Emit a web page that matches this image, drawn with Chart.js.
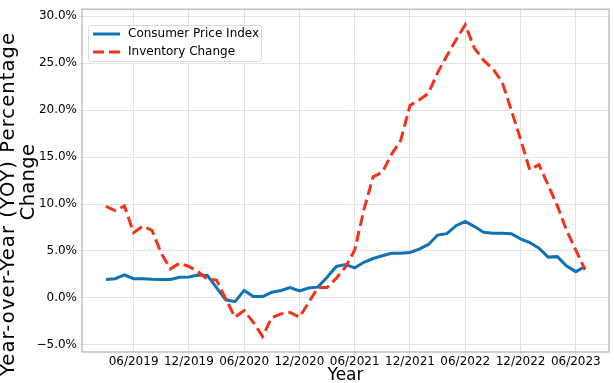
<!DOCTYPE html>
<html>
<head>
<meta charset="utf-8">
<script src="https://cdn.jsdelivr.net/npm/chart.js@4.4.0/dist/chart.umd.min.js"></script>
<style>
  body { margin: 0; background: #fff; }
  #wrap { width: 614px; height: 383px; position: relative; }
</style>
</head>
<body>
<div id="wrap"><canvas id="chart"></canvas></div>
<script>
// monthly observations, 03/2019 .. 07/2023
var months = [
  '03/2019','04/2019','05/2019','06/2019','07/2019','08/2019','09/2019','10/2019','11/2019','12/2019',
  '01/2020','02/2020','03/2020','04/2020','05/2020','06/2020','07/2020','08/2020','09/2020','10/2020','11/2020','12/2020',
  '01/2021','02/2021','03/2021','04/2021','05/2021','06/2021','07/2021','08/2021','09/2021','10/2021','11/2021','12/2021',
  '01/2022','02/2022','03/2022','04/2022','05/2022','06/2022','07/2022','08/2022','09/2022','10/2022','11/2022','12/2022',
  '01/2023','02/2023','03/2023','04/2023','05/2023','06/2023','07/2023'
];
var cpi = [
  1.96, 2.05, 2.45, 2.05, 2.05, 1.98, 1.96, 1.96, 2.2, 2.23,
  2.45, 2.4, 1.1, -0.2, -0.4, 0.8, 0.15, 0.15, 0.6, 0.8, 1.1, 0.75,
  1.05, 1.15, 2.2, 3.35, 3.55, 3.2, 3.8, 4.2, 4.5, 4.75, 4.75, 4.85,
  5.2, 5.7, 6.7, 6.85, 7.7, 8.15, 7.6, 7.0, 6.9, 6.9, 6.85, 6.3,
  5.9, 5.3, 4.35, 4.4, 3.4, 2.8, 3.35
];
var inventory = [
  9.75, 9.3, 9.8, 6.95, 7.65, 7.2, 4.75, 3.1, 3.7, 3.35,
  2.8, 2.0, 1.9, -0.1, -2.05, -1.35, -2.6, -4.1, -2.1, -1.7, -1.55, -2.05,
  -0.5, 1.1, 1.1, 2.1, 3.3, 5.1, 9.4, 12.9, 13.4, 15.3, 16.8, 20.5,
  21.1, 21.8, 24.0, 25.8, 27.5, 29.1, 26.6, 25.3, 24.4, 23.0, 20.0, 16.9,
  13.65, 14.2, 12.0, 9.8, 7.2, 5.1, 3.0
];
var seriesNames = ['Consumer Price Index', 'Inventory Change'];
var xTickLabels = ['06/2019','12/2019','06/2020','12/2020','06/2021','12/2021','06/2022','12/2022','06/2023'];
var yTickValues = [-5, 0, 5, 10, 15, 20, 25, 30];
var xTitle = 'Year';
var yTitleLines = ['Year-over-Year (YOY) Percentage', 'Change'];

var FONT = "'DejaVu Sans', sans-serif";

function toPoints(values) {
  return values.map(function (v, i) { return { x: i, y: v }; });
}

// matplotlib-like 5% margins
var allVals = cpi.concat(inventory);
var yLo = Math.min.apply(null, allVals), yHi = Math.max.apply(null, allVals);
var yPad = (yHi - yLo) * 0.05;
var xPad = (months.length - 1) * 0.05;

var extras = {
  id: 'extras',
  afterDatasetsDraw: function (chart) {
    var c = chart.ctx, a = chart.chartArea;
    // axes frame
    c.save();
    c.strokeStyle = '#b3b3b3';
    c.lineWidth = 1.2;
    c.strokeRect(a.left, a.top, a.right - a.left, a.bottom - a.top);

    // legend box
    c.beginPath();
    c.roundRect(88.5, 25.5, 173, 36, 3);
    c.fillStyle = 'rgba(255,255,255,0.85)';
    c.fill();
    c.strokeStyle = '#d9d9d9';
    c.lineWidth = 1;
    c.stroke();

    chart.data.datasets.forEach(function (ds, i) {
      var y = 34 + i * 18;
      c.beginPath();
      c.setLineDash(ds.borderDash || []);
      c.strokeStyle = ds.borderColor;
      c.lineWidth = ds.borderWidth;
      c.moveTo(93, y);
      c.lineTo(120, y);
      c.stroke();
      c.setLineDash([]);
      c.fillStyle = '#000';
      c.font = '12px ' + FONT;
      c.textBaseline = 'middle';
      c.fillText(ds.label, 128, y);
    });
    c.restore();
  },
  afterDraw: function (chart) {
    // two-line rotated y title
    var c = chart.ctx;
    c.save();
    c.fillStyle = '#000';
    c.textAlign = 'center';
    c.textBaseline = 'middle';
    // x, y, font size, letter spacing
    [[9, 204, 19.5, '1.1px'], [28.5, 182, 19.5, '0.3px']].forEach(function (p, i) {
      c.save();
      c.font = p[2] + 'px ' + FONT;
      c.letterSpacing = p[3];
      c.translate(p[0], p[1]);
      c.rotate(-Math.PI / 2);
      c.fillText(yTitleLines[i], 0, 0);
      c.restore();
    });
    c.restore();
  }
};

var ctx = document.getElementById('chart').getContext('2d');
new Chart(ctx, {
  type: 'line',
  data: {
    datasets: [{
      label: seriesNames[0],
      data: toPoints(cpi),
      borderColor: '#0f72b5',
      borderWidth: 3,
      pointRadius: 0,
      tension: 0,
      order: 1
    }, {
      label: seriesNames[1],
      data: toPoints(inventory),
      borderColor: '#f0341c',
      borderWidth: 3,
      borderDash: [11, 5],
      pointRadius: 0,
      tension: 0,
      order: 0
    }]
  },
  options: {
    responsive: true,
    maintainAspectRatio: false,
    animation: false,
    layout: { padding: { top: 4, right: 5, left: 0, bottom: 0 } },
    plugins: { legend: { display: false }, tooltip: { enabled: false } },
    scales: {
      x: {
        type: 'linear',
        min: -xPad,
        max: months.length - 1 + xPad,
        afterBuildTicks: function (axis) {
          axis.ticks = xTickLabels.map(function (l) { return { value: months.indexOf(l) }; });
        },
        afterFit: function (scale) { scale.height = 31; },
        ticks: {
          autoSkip: false,
          maxRotation: 0,
          padding: 0,
          color: '#000',
          font: { family: FONT, size: 12 },
          callback: function (v) { return months[v]; }
        },
        grid: { color: '#e3e3e3', lineWidth: 1, tickLength: 3 },
        border: { display: false },
        title: {
          display: true,
          text: xTitle,
          color: '#000',
          font: { family: FONT, size: 17, lineHeight: 1 },
          padding: { top: 0, bottom: -1 }
        }
      },
      y: {
        min: yLo - yPad,
        max: yHi + yPad,
        afterBuildTicks: function (axis) {
          axis.ticks = yTickValues.map(function (v) { return { value: v }; });
        },
        afterFit: function (scale) { scale.width = 82; },
        ticks: {
          padding: 2,
          color: '#000',
          font: { family: FONT, size: 12 },
          callback: function (v) { return (v < 0 ? '\u2212' : '') + Math.abs(v).toFixed(1) + '%'; }
        },
        grid: { color: '#e3e3e3', lineWidth: 1, tickLength: 3 },
        border: { display: false }
      }
    }
  },
  plugins: [extras]
});
</script>
</body>
</html>
